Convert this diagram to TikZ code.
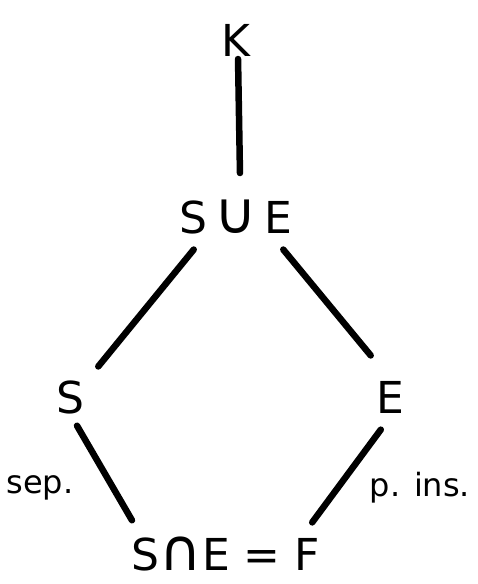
\documentclass[tikz,border=0pt]{standalone}
\usepackage{fontspec}
\setmainfont{DejaVu Sans}
\newcommand{\bigop}[1]{{\fontsize{58}{58}\selectfont #1}}
\begin{document}
\begin{tikzpicture}[x=1pt,y=-1pt,
  lbl/.style={inner sep=0pt, font=\fontsize{44}{48}\selectfont},
  small/.style={inner sep=0pt, font=\fontsize{32}{36}\selectfont},
  edge/.style={line width=6.5pt, line cap=round, shorten >=2pt, shorten <=2pt}]
\useasboundingbox (0,0) rectangle (477,584);
\node[lbl] (k) at (236,40) {K};
\node[lbl, anchor=base] (u) at (236,233) {S\,\bigop{∪}\,E};
\node[lbl] (s) at (70,397) {S};
\node[lbl] (e) at (390,397) {E};
\node[lbl, anchor=base] (f) at (226,570) {S\bigop{∩}E = F};
\node[small] (sep) at (40,488) {sep.};
\node[small] (pins) at (420,488) {p. ins.};
\coordinate (k1) at (238,57);
\coordinate (u1) at (240,175);
\coordinate (u2) at (195,248);
\coordinate (s1) at (97,368);
\coordinate (u3) at (282,248);
\coordinate (e1) at (372,357);
\coordinate (s2) at (76,424);
\coordinate (f1) at (133,522);
\coordinate (e2) at (382,428);
\coordinate (f2) at (311,524);
\draw[edge] (k1) -- (u1);
\draw[edge] (u2) -- (s1);
\draw[edge] (u3) -- (e1);
\draw[edge] (s2) -- (f1);
\draw[edge] (e2) -- (f2);
\end{tikzpicture}
\end{document}
